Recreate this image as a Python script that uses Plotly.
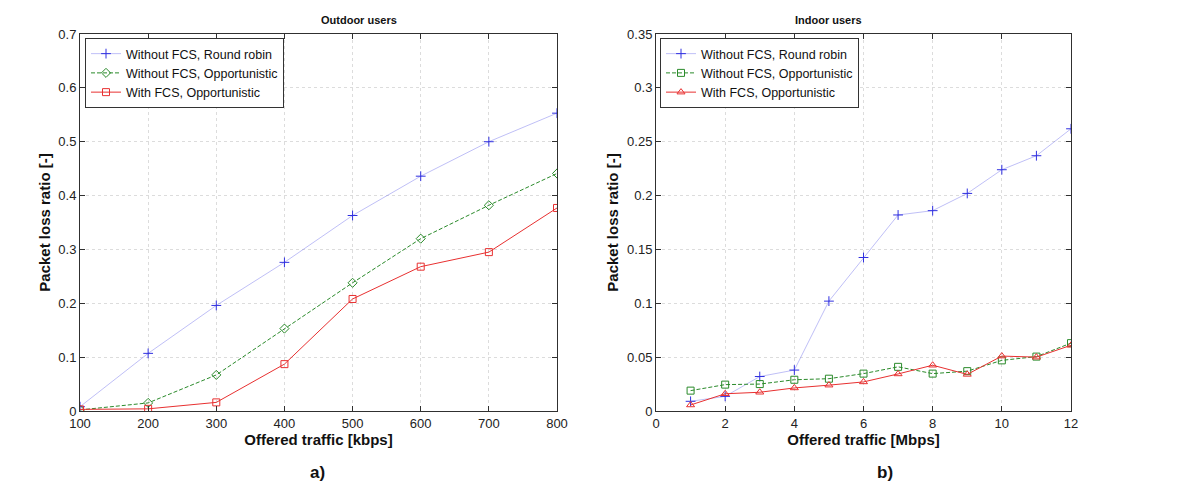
import plotly.graph_objects as go
from plotly.subplots import make_subplots

# Outdoor users (a)
x_out = [100, 200, 300, 400, 500, 600, 700, 800]
out_rr = [0.008, 0.107, 0.196, 0.276, 0.363, 0.436, 0.500, 0.553]
out_opp = [0.002, 0.015, 0.067, 0.153, 0.238, 0.320, 0.382, 0.441]
out_fcs = [0.003, 0.004, 0.016, 0.087, 0.208, 0.268, 0.295, 0.377]

# Indoor users (b)
x_in = [1, 2, 3, 4, 5, 6, 7, 8, 9, 10, 11, 12]
in_rr = [0.009, 0.0136, 0.032, 0.038, 0.102, 0.1425, 0.182, 0.186, 0.202, 0.224, 0.237, 0.262]
in_opp = [0.0189, 0.0245, 0.025, 0.029, 0.030, 0.0347, 0.041, 0.0347, 0.037, 0.047, 0.0505, 0.063]
in_fcs = [0.0056, 0.016, 0.0174, 0.0214, 0.024, 0.027, 0.0344, 0.0425, 0.034, 0.051, 0.050, 0.061]

names = ["Without FCS, Round robin", "Without FCS, Opportunistic", "With FCS, Opportunistic"]

FONT = "Liberation Sans, Arial, sans-serif"
BLUE = "#3030e0"
RRLINE = "rgba(120,120,235,0.6)"
GREEN = "#2a8a2a"
RED = "#e83030"

# page body has an 8px margin; figure spans 8..1192 x 8..485
OFF = 8
W, H = 1184, 477
def px(xp):
    return (xp - OFF) / W
def py(yp):
    return 1 - (yp - OFF) / H

fig = make_subplots(rows=1, cols=2)

def add(x, y, name, color, mcolor, dash, symbol, width, col, legend, size=7):
    fig.add_trace(go.Scatter(
        x=x, y=y, name=name, mode="lines+markers",
        line=dict(color=color, dash=dash, width=width),
        marker=dict(symbol=symbol, color=mcolor, size=size, line=dict(color=mcolor, width=1)),
        legend=legend), row=1, col=col)

GDASH = "4px,2px"
add(x_out, out_rr, names[0], RRLINE, BLUE, "solid", "cross-thin-open", 0.8, 1, "legend")
add(x_out, out_opp, names[1], GREEN, GREEN, GDASH, "diamond-open", 1, 1, "legend")
add(x_out, out_fcs, names[2], RED, RED, "solid", "square-open", 1, 1, "legend")
add(x_in, in_rr, names[0], RRLINE, BLUE, "solid", "cross-thin-open", 0.8, 2, "legend2")
add(x_in, in_opp, names[1], GREEN, GREEN, GDASH, "square-open", 1, 2, "legend2")
add(x_in, in_fcs, names[2], RED, RED, "solid", "triangle-up-open", 1, 2, "legend2")

ydom = [py(411), py(34)]
axis_common = dict(showline=True, linecolor="#303030", linewidth=1, mirror="allticks",
                   ticks="inside", ticklen=5, tickcolor="#303030", automargin=False,
                   showgrid=True, gridcolor="#dcdcdc", griddash="dot", gridwidth=1,
                   zeroline=False, tickfont=dict(family=FONT, size=13, color="#222"))

fig.update_xaxes(**axis_common)
fig.update_yaxes(**axis_common)

tfont = dict(family=FONT, size=15, color="#111")
lfont = dict(family=FONT, size=12.5)
fig.update_layout(
    xaxis=dict(domain=[px(80), px(557)], range=[100, 800], tickvals=x_out,
               title=dict(text="<b>Offered traffic [kbps]</b>", font=tfont, standoff=0)),
    yaxis=dict(domain=ydom, range=[0, 0.7], tickvals=[0, 0.1, 0.2, 0.3, 0.4, 0.5, 0.6, 0.7],
               ticktext=["0", "0.1", "0.2", "0.3", "0.4", "0.5", "0.6", "0.7"],
               title=dict(text="<b>Packet loss ratio [-]</b>", font=tfont, standoff=4)),
    xaxis2=dict(domain=[px(656), px(1071)], range=[0, 12], tickvals=[0, 2, 4, 6, 8, 10, 12],
                title=dict(text="<b>Offered traffic [Mbps]</b>", font=tfont, standoff=0)),
    yaxis2=dict(domain=ydom, range=[0, 0.35], tickvals=[0, 0.05, 0.1, 0.15, 0.2, 0.25, 0.3, 0.35],
                ticktext=["0", "0.05", "0.1", "0.15", "0.2", "0.25", "0.3", "0.35"],
                title=dict(text="<b>Packet loss ratio [-]</b>", font=tfont, standoff=4)),
    width=W, height=H,
    margin=dict(l=0, r=0, t=0, b=0, autoexpand=False),
    paper_bgcolor="white", plot_bgcolor="white",
    font=dict(family=FONT, color="#111"),
    legend=dict(x=px(85), y=py(38), xanchor="left", yanchor="top",
                bgcolor="white", bordercolor="#333", borderwidth=1,
                font=lfont, tracegroupgap=0, itemwidth=30),
    legend2=dict(x=px(660), y=py(38), xanchor="left", yanchor="top",
                 bgcolor="white", bordercolor="#333", borderwidth=1,
                 font=lfont, tracegroupgap=0, itemwidth=30),
    annotations=[
        dict(text="<b>Outdoor users</b>", x=px((80+557)/2), y=py(20), xref="paper", yref="paper",
             showarrow=False, font=dict(family=FONT, size=11, color="#111"), yanchor="middle"),
        dict(text="<b>Indoor users</b>", x=px((656+1071)/2), y=py(20), xref="paper", yref="paper",
             showarrow=False, font=dict(family=FONT, size=11, color="#111"), yanchor="middle"),
        dict(text="<b>a)</b>", x=px(308), y=py(484), xref="paper", yref="paper",
             showarrow=False, font=dict(family=FONT, size=17, color="#111"), yanchor="bottom"),
        dict(text="<b>b)</b>", x=px(895), y=py(484), xref="paper", yref="paper",
             showarrow=False, font=dict(family=FONT, size=17, color="#111"), yanchor="bottom"),
    ],
)

fig.write_html("out.html")
